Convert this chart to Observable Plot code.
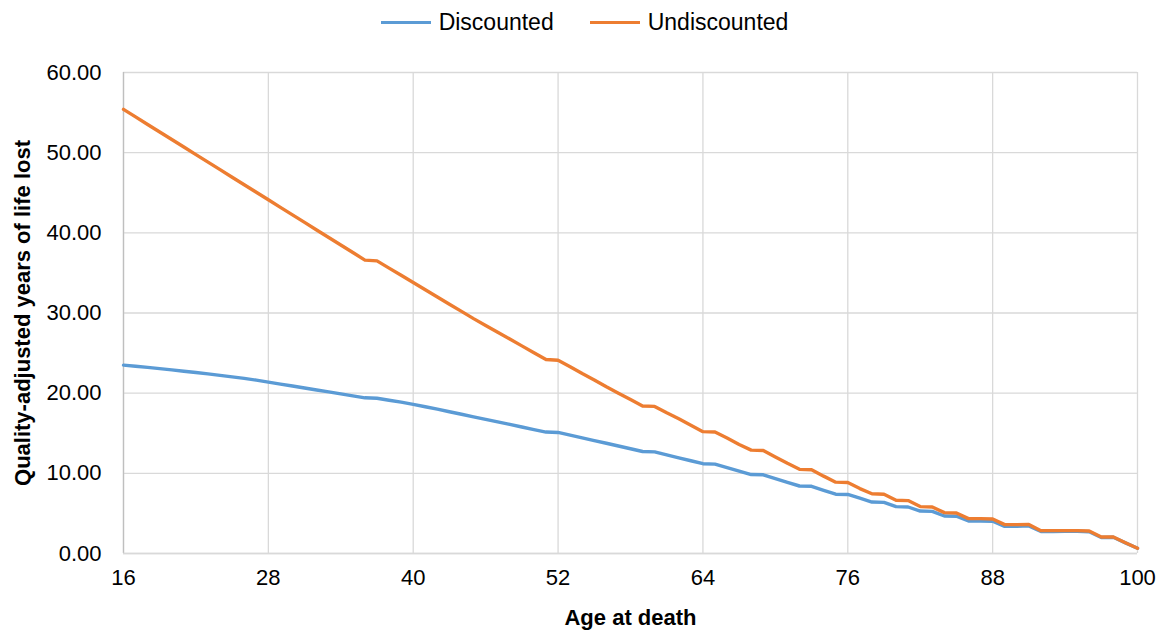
<!DOCTYPE html>
<html>
<head>
<meta charset="utf-8">
<script src="https://cdn.jsdelivr.net/npm/d3@7"></script>
<script src="https://cdn.jsdelivr.net/npm/@observablehq/plot@0.6"></script>
<style>
  html, body { margin: 0; padding: 0; background: #fff; }
  body { width: 1163px; height: 635px; overflow: hidden; font-family: "Liberation Sans", Arial, sans-serif; }
  #legend { height: 45px; display: flex; justify-content: center; align-items: center; font-size: 23px; color: #000; padding-left: 6px; box-sizing: border-box; }
  .item { display: flex; align-items: center; }
  .item + .item { margin-left: 36px; }
  .swatch { width: 50px; height: 3.5px; margin-right: 8px; }
</style>
</head>
<body>
<div id="legend"></div>
<div id="chart"></div>
<script>
// Age at death, one point per year
const ages = [
  16, 17, 18, 19, 20, 21, 22, 23, 24, 25, 26, 27, 28, 29, 30, 31, 32, 33, 34, 35,
  36, 37, 38, 39, 40, 41, 42, 43, 44, 45, 46, 47, 48, 49, 50, 51, 52, 53, 54, 55,
  56, 57, 58, 59, 60, 61, 62, 63, 64, 65, 66, 67, 68, 69, 70, 71, 72, 73, 74, 75,
  76, 77, 78, 79, 80, 81, 82, 83, 84, 85, 86, 87, 88, 89, 90, 91, 92, 93, 94, 95,
  96, 97, 98, 99, 100
];

// QALYs lost, discounted
const discounted = [
  23.50, 23.36, 23.21, 23.06, 22.90, 22.74, 22.57, 22.40, 22.22, 22.04, 21.85, 21.62, 21.38, 21.13, 20.89, 20.65, 20.40, 20.16, 19.91, 19.67,
  19.42, 19.36, 19.12, 18.88, 18.60, 18.31, 18.00, 17.68, 17.37, 17.05, 16.73, 16.42, 16.10, 15.78, 15.46, 15.15, 15.10, 14.77, 14.43, 14.09,
  13.75, 13.41, 13.07, 12.72, 12.68, 12.31, 11.94, 11.57, 11.20, 11.15, 10.72, 10.28, 9.85, 9.82, 9.35, 8.88, 8.42, 8.38, 7.88, 7.40,
  7.36, 6.90, 6.42, 6.38, 5.85, 5.80, 5.30, 5.26, 4.68, 4.65, 4.05, 4.05, 4.03, 3.38, 3.38, 3.45, 2.75, 2.75, 2.76, 2.78,
  2.72, 2.00, 2.02, 1.33, 0.65
];

// QALYs lost, undiscounted
const undiscounted = [
  55.40, 54.46, 53.52, 52.58, 51.64, 50.70, 49.76, 48.82, 47.88, 46.94, 46.00, 45.06, 44.12, 43.18, 42.24, 41.30, 40.36, 39.42, 38.48, 37.54,
  36.60, 36.50, 35.60, 34.70, 33.80, 32.90, 32.00, 31.10, 30.20, 29.30, 28.45, 27.60, 26.75, 25.90, 25.05, 24.20, 24.10, 23.30, 22.45, 21.65,
  20.80, 20.00, 19.20, 18.40, 18.35, 17.55, 16.80, 16.00, 15.20, 15.15, 14.40, 13.60, 12.90, 12.85, 12.05, 11.25, 10.50, 10.45, 9.65, 8.90,
  8.85, 8.10, 7.45, 7.40, 6.65, 6.60, 5.85, 5.80, 5.10, 5.05, 4.35, 4.35, 4.30, 3.60, 3.60, 3.62, 2.85, 2.85, 2.85, 2.85,
  2.80, 2.05, 2.05, 1.35, 0.65
];

const seriesNames = ["Discounted", "Undiscounted"];
const seriesColors = ["#5b9bd5", "#ed7d31"];
const xTicks = [16, 28, 40, 52, 64, 76, 88, 100];
const yTicks = [0, 10, 20, 30, 40, 50, 60];
const xTitle = "Age at death";
const yTitle = "Quality-adjusted years of life lost";

const rows = [
  ...ages.map((age, i) => ({age, value: discounted[i], series: seriesNames[0]})),
  ...ages.map((age, i) => ({age, value: undiscounted[i], series: seriesNames[1]}))
];

// Legend above the plot
const legend = document.getElementById("legend");
seriesNames.forEach((name, i) => {
  const item = document.createElement("div");
  item.className = "item";
  const sw = document.createElement("span");
  sw.className = "swatch";
  sw.style.background = seriesColors[i];
  const label = document.createElement("span");
  label.textContent = name;
  item.append(sw, label);
  legend.append(item);
});

const chart = Plot.plot({
  width: 1163,
  height: 590,
  marginTop: 27,
  marginBottom: 82,
  marginLeft: 123,
  marginRight: 26,
  style: {fontFamily: "'Liberation Sans', Arial, sans-serif", fontSize: "22px", color: "#000", background: "#fff"},
  x: {domain: [16, 100]},
  y: {domain: [0, 60]},
  color: {domain: seriesNames, range: seriesColors},
  marks: [
    Plot.gridX(xTicks, {stroke: "#d9d9d9", strokeOpacity: 1, strokeWidth: 1.3}),
    Plot.gridY(yTicks, {stroke: "#d9d9d9", strokeOpacity: 1, strokeWidth: 1.3}),
    Plot.ruleX([16], {stroke: "#bfbfbf", strokeWidth: 1.3}),
    Plot.ruleY([0], {stroke: "#d9d9d9", strokeWidth: 1.6}),
    Plot.axisX(xTicks, {tickSize: 0, tickPadding: 16, fontSize: 22, label: null}),
    Plot.axisY(yTicks, {tickSize: 0, tickPadding: 22, fontSize: 22, label: null, tickFormat: d3.format(".2f")}),
    Plot.text([xTitle], {frameAnchor: "bottom", dy: 64, fontSize: 22, fontWeight: "bold", lineAnchor: "middle"}),
    Plot.text([yTitle], {frameAnchor: "left", dx: -101, rotate: -90, fontSize: 22, fontWeight: "bold", textAnchor: "middle", lineAnchor: "middle"}),
    Plot.line(rows, {x: "age", y: "value", z: "series", stroke: "series", strokeWidth: 3.4, curve: "linear"})
  ]
});
document.getElementById("chart").append(chart);
</script>
</body>
</html>
